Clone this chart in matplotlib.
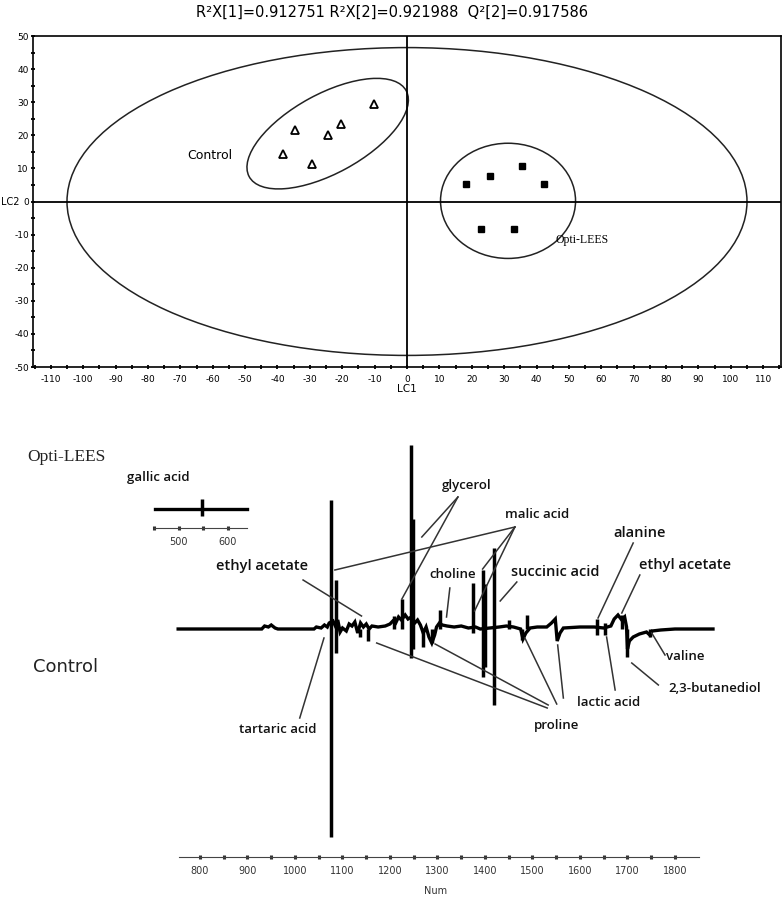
import matplotlib
matplotlib.use("Agg")
import matplotlib.pyplot as plt
from matplotlib.patches import Ellipse
from matplotlib.ticker import MultipleLocator, FixedLocator

plt.rcParams["axes.unicode_minus"] = False

# ---------------- score plot data ----------------
control_lc1 = [-10.1, -34.6, -20.4, -24.5, -38.2, -29.2]
control_lc2 = [29.5, 21.5, 23.4, 20.1, 14.4, 11.3]
opti_lc1 = [18.3, 25.5, 35.4, 42.3, 22.8, 33.1]
opti_lc2 = [5.3, 7.6, 10.8, 5.3, -8.2, -8.2]

# confidence ellipses: (center x, center y, width, height, angle)
ell_all = (0.0, 0.0, 210.0, 93.0, 0.0)
ell_control = (-24.5, 20.5, 55.0, 24.0, 28.0)
ell_opti = (31.2, 0.2, 41.7, 34.8, 0.0)

title_txt = "R\u00b2X[1]=0.912751 R\u00b2X[2]=0.921988  Q\u00b2[2]=0.917586"

# ---------------- loading plot data ----------------
# baseline trace (Num, loading)
trace_num = [754, 930, 936, 944, 950, 958, 964, 1040, 1045, 1055, 1062, 1068, 1072,
             1080, 1085, 1090, 1095, 1100, 1108, 1114, 1120, 1126, 1132, 1138, 1144,
             1150, 1156, 1162, 1175, 1190, 1200, 1206, 1212, 1218, 1224, 1232, 1238,
             1245, 1252, 1258, 1264, 1270, 1276, 1282, 1288, 1294, 1298, 1304, 1310,
             1320, 1335, 1350, 1365, 1380, 1390, 1410, 1430, 1445, 1460, 1475, 1480,
             1486, 1495, 1510, 1530, 1540, 1548, 1552, 1558, 1565, 1600, 1630, 1650,
             1665, 1672, 1680, 1688, 1694, 1698, 1700, 1704, 1712, 1725, 1740, 1747,
             1752, 1770, 1800, 1880]
trace_val = [0, 0, 3, 2, 4, 1, 0, 0, 2, 1, 4, 2, 6,
             8, 3, 9, -3, 1, -2, 5, 3, 7, -4, 6, 2,
             5, 0, 3, 2, 3, 5, 8, 6, 12, 9, 14, 10,
             12, 6, 9, 4, -4, 2, -8, -14, -6, 2, 6, 4,
             3, 2, 3, 1, 2, 0, 1, 2, 3, 2, 0, -10,
             -4, 1, 2, 2, 6, 10, -12, -4, 1, 2, 2, 1,
             3, 10, 14, 9, 12, 2, -20, -12, -8, -5, -3, -6,
             -2, -1, 0, 0]

# sharp peaks: position, positive extent, negative extent
stick_num = [1076, 1087, 1137, 1154, 1209, 1225, 1244, 1248, 1269, 1288, 1305,
             1375, 1395, 1400, 1419, 1451, 1477, 1488, 1635, 1653, 1688, 1698, 1747]
stick_top = [129, 49, 0, 0, 13, 30, 184, 110, 0, 0, 19,
             46, 59, 45, 81, 9, 0, 14, 10, 6, 14, 0, 0]
stick_bot = [-208, -24, -8, -12, 0, 0, -29, -20, -18, -14, 0,
             -4, -48, -38, -76, 0, -11, 0, -6, -6, 0, -28, -8]

# inset (gallic acid region)
gallic_num = [452, 640]
gallic_val = [0, 0]
gallic_peak = (547, 10, -6.6)

# annotations: text, text position, connector start, connector targets, size
labels = [
    ("ethyl acetate", (930, 63), (1017, 49), [(1140, 13)], 10.5),
    ("tartaric acid", (964, -100), (1010, -89), [(1061, -9)], 9.5),
    ("glycerol", (1361, 144), (1343, 132), [(1267, 92), (1225, 30)], 9.5),
    ("malic acid", (1509, 115), (1463, 102), [(1084, 59), (1395, 60), (1378, 18)], 9.5),
    ("choline", (1333, 54), (1326, 41), [(1319, 12)], 9.5),
    ("succinic acid", (1547, 57), (1467, 47), [(1432, 28)], 10.5),
    ("alanine", (1726, 96), (1712, 86), [(1638, 11)], 10.5),
    ("ethyl acetate", (1821, 64), (1726, 54), [(1688, 16)], 10.5),
    ("valine", (1821, -28), (1779, -26), [(1751, -4)], 9.5),
    ("2,3-butanediol", (1884, -59), (1765, -56), [(1709, -34)], 9.5),
    ("lactic acid", (1660, -73), (1565, -69), [(1553, -16)], 9.5),
    ("lactic acid", None, (1674, -61), [(1656, -8)], 9.5),
    ("proline", (1551, -96), (1531, -79), [(1172, -14)], 9.5),
    ("proline", None, (1533, -76), [(1295, -15)], 9.5),
    ("proline", None, (1551, -75), [(1484, -9)], 9.5),
]

W, H = 784, 897
fig = plt.figure(figsize=(W / 100, H / 100), dpi=100)

# ================= top: score plot =================
ax = fig.add_axes([33 / W, 1 - 367 / H, 748 / W, 331 / H])
ax.set_xlim(-115.5, 115.5)
ax.set_ylim(-50, 50)
ax.axhline(0, color="black", lw=1.3)
ax.axvline(0, color="black", lw=1.3)
for cx, cy, w, h, ang in (ell_all, ell_control, ell_opti):
    ax.add_patch(Ellipse((cx, cy), w, h, angle=ang, fill=False, ec="#222222", lw=1.1))
ax.plot(control_lc1, control_lc2, ls="none", marker="^", ms=6, mfc="white",
        mec="black", mew=1.3)
ax.plot(opti_lc1, opti_lc2, ls="none", marker="s", ms=5, color="black")
ax.text(-61, 14, "Control", fontsize=9, ha="center", va="center", family="DejaVu Sans")
ax.text(54, -11.6, "Opti-LEES", fontsize=8.5, ha="center", va="center",
        family="Liberation Serif")

ax.set_xticks(range(-110, 111, 10))
ax.xaxis.set_minor_locator(MultipleLocator(5))
ax.yaxis.set_major_locator(MultipleLocator(10))
ax.yaxis.set_minor_locator(MultipleLocator(5))
ax.tick_params(which="both", direction="inout", length=3, width=1.3, labelsize=6.5)
ax.tick_params(axis="x", pad=4)
ax.tick_params(axis="y", pad=1.5)
for sp in ax.spines.values():
    sp.set_linewidth(1.2)
fig.text(407 / W, 1 - 389 / H, "LC1", fontsize=7.5, ha="center", va="center")
fig.text(1 / W, 1 - 202 / H, "LC2", fontsize=7, ha="left", va="center")
fig.text(392 / W, 1 - 12 / H, title_txt, fontsize=10.5, ha="center", va="center",
         family=["Liberation Sans Narrow", "DejaVu Sans"])

# ================= bottom: loading plot =================
bx = fig.add_axes([0, 0, 1, 497 / H])
bx.set_xlim(378.95, 2029.5)
bx.set_ylim(-268, 229)
bx.plot(trace_num, trace_val, color="black", lw=2.4, solid_joinstyle="miter")
bx.vlines(stick_num, stick_bot, stick_top, color="black", lw=2.5)

for text, tpos, start, targets, fs in labels:
    if tpos is not None:
        bx.text(tpos[0], tpos[1], text, fontsize=fs, ha="center", va="center",
                family="Open Sans", weight="semibold", color="#111111")
    for tx, ty in targets:
        bx.plot([start[0], tx], [start[1], ty], color="#333333", lw=1.1)

for sp in ("top", "left", "right"):
    bx.spines[sp].set_visible(False)
bx.spines["bottom"].set_position(("data", -228.3))
bx.spines["bottom"].set_bounds(755, 1850)
bx.spines["bottom"].set_color("#444444")
bx.set_yticks([])
bx.set_xticks(range(800, 1801, 100))
bx.xaxis.set_minor_locator(FixedLocator(range(850, 1800, 100)))
bx.tick_params(which="both", direction="inout", length=2.5, width=2.2, labelsize=7,
               colors="#333333", pad=5)
bx.set_facecolor("none")
bx.text(1295, -262, "Num", fontsize=7, ha="center", va="center", color="#333333")

bx.text(378.95 + 27 / 0.475, 629 - 457, "Opti-LEES", fontsize=12.5, ha="left",
        va="center", family="Liberation Serif", color="#222222")
bx.text(378.95 + 33 / 0.475, 629 - 667, "Control", fontsize=13, ha="left",
        va="center", family="DejaVu Sans", color="#222222")
bx.text(378.95 + 158 / 0.475, 629 - 478, "gallic acid", fontsize=9.5, ha="center",
        va="center", family="Open Sans", weight="semibold", color="#111111")

# inset for the gallic acid signal
ix = fig.add_axes([150 / W, 1 - 528.3 / H, 102 / W, 38.3 / H])
ix.set_xlim(441.2, 649.4)
ix.set_ylim(-19, 19.3)
ix.plot(gallic_num, gallic_val, color="black", lw=2.4)
ix.vlines([gallic_peak[0]], [gallic_peak[2]], [gallic_peak[1]], color="black", lw=2.5)
for sp in ("top", "left", "right"):
    ix.spines[sp].set_visible(False)
ix.spines["bottom"].set_position(("data", -19))
ix.spines["bottom"].set_bounds(450, 640)
ix.spines["bottom"].set_color("#444444")
ix.set_yticks([])
ix.set_xticks([500, 600])
ix.xaxis.set_minor_locator(FixedLocator([450, 550]))
ix.tick_params(which="both", direction="inout", length=2.5, width=2.2, labelsize=7,
               colors="#333333", pad=5)
ix.set_facecolor("none")

fig.savefig("out.png", dpi=100)
